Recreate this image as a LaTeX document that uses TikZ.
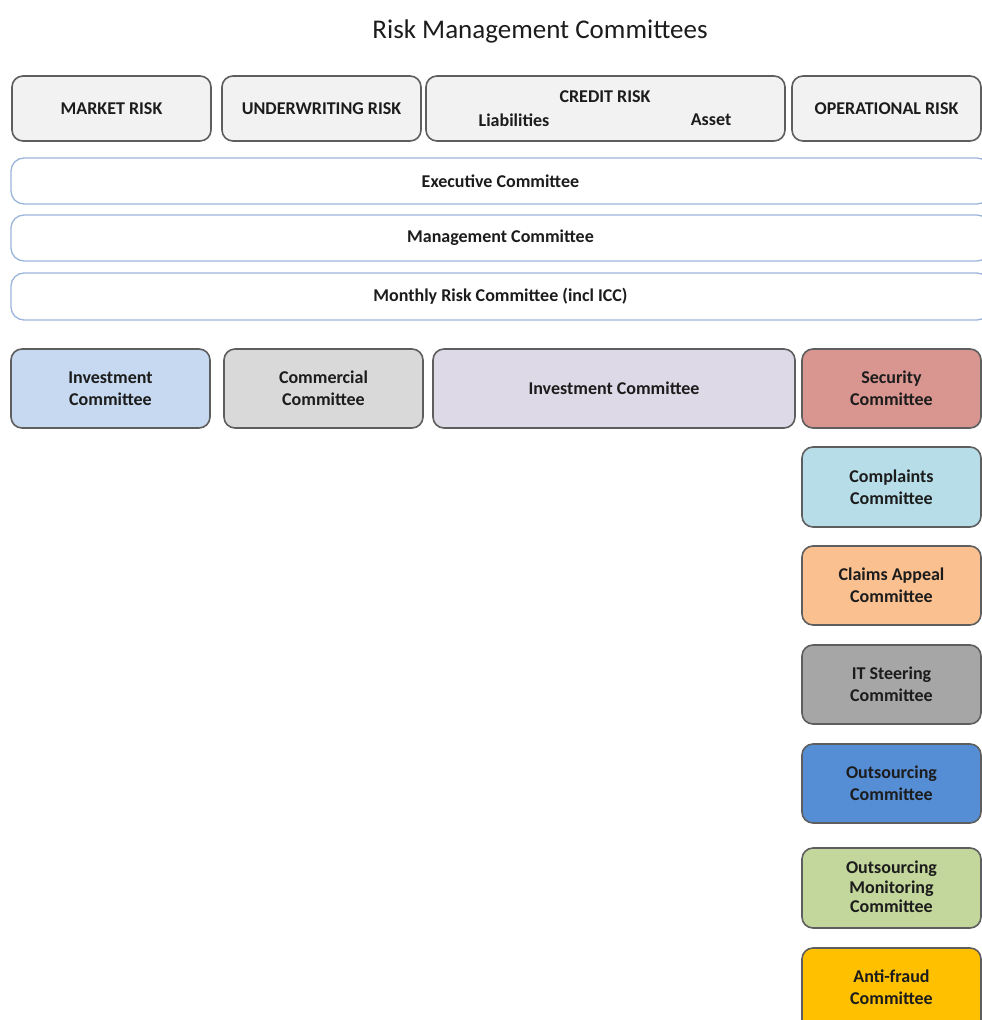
\documentclass[tikz,border=0pt]{standalone}
\usepackage{fontspec}
\setmainfont{Carlito}
\definecolor{topfill}{HTML}{F2F2F2}
\definecolor{boxline}{HTML}{5E5E5E}
\definecolor{bandline}{HTML}{9CB6DB}
\definecolor{invblue}{HTML}{C6D9F0}
\definecolor{commgray}{HTML}{D9D9D9}
\definecolor{invpurple}{HTML}{DED9E6}
\definecolor{secred}{HTML}{D9958F}
\definecolor{complblue}{HTML}{B7DEE8}
\definecolor{claimsor}{HTML}{FAC090}
\definecolor{itgray}{HTML}{A6A6A6}
\definecolor{outblue}{HTML}{558ED5}
\definecolor{monigreen}{HTML}{C3D69B}
\definecolor{antiyel}{HTML}{FFC000}
\definecolor{txt}{HTML}{1C1C1C}
\tikzset{
  box/.style={draw=boxline, line width=1.6pt, rounded corners=11pt},
  band/.style={draw=bandline, line width=1.3pt, rounded corners=13pt, fill=white},
  lbl/.style={text=txt, font=\bfseries\fontsize{18}{22}\selectfont, align=center, inner sep=0pt},
}
\newcommand{\rbox}[7]{% name, style, x1, y1, x2, y2, text
  \path[#2] (#3pt,-#4pt) rectangle (#5pt,-#6pt);
  \node[lbl] (#1) at ({(#3+#5)/2*1pt},{-(#4+#6)/2*1pt}) {#7};}
\begin{document}
\begin{tikzpicture}[x=1pt,y=1pt]
\useasboundingbox (0,0) rectangle (982,-1020);
\clip (0,0) rectangle (982,-1020);
\node[font=\fontsize{27}{32}\selectfont, text=txt, inner sep=0pt] (title) at (540,-31) {Risk Management Committees};
% top row
\rbox{market}{box,fill=topfill}{12}{76}{211}{141}{MARKET RISK}
\rbox{under}{box,fill=topfill}{222}{76}{421}{141}{UNDERWRITING RISK}
\path[box,fill=topfill] (426,-76) rectangle (785,-141);
\node[lbl] (credit) at (605,-97) {CREDIT RISK};
\node[lbl] (liab) at (514,-120) {Liabilities};
\node[lbl] (asset) at (711,-120) {Asset};
\rbox{oper}{box,fill=topfill}{792}{76}{981}{141}{OPERATIONAL RISK}
% bands
\rbox{exec}{band}{11}{158}{990}{204}{Executive Committee}
\rbox{mgmt}{band}{11}{215}{990}{261}{Management Committee}
\rbox{monthly}{band}{11}{273}{990}{320}{Monthly Risk Committee (incl ICC)}
% third row
\rbox{inv1}{box,fill=invblue}{11}{349}{210}{428}{Investment\\Committee}
\rbox{comm}{box,fill=commgray}{224}{349}{423}{428}{Commercial\\Committee}
\rbox{inv2}{box,fill=invpurple}{433}{349}{795}{428}{Investment Committee}
\rbox{sec}{box,fill=secred}{802}{349}{981}{428}{Security\\Committee}
% right column
\rbox{compl}{box,fill=complblue}{802}{447}{981}{527}{Complaints\\Committee}
\rbox{claims}{box,fill=claimsor}{802}{546}{981}{625}{Claims Appeal\\Committee}
\rbox{itst}{box,fill=itgray}{802}{645}{981}{724}{IT Steering\\Committee}
\rbox{outs}{box,fill=outblue}{802}{744}{981}{823}{Outsourcing\\Committee}
\path[box,fill=monigreen] (802,-848) rectangle (981,-928);
\node[lbl, font=\bfseries\fontsize{18}{19.5}\selectfont] (monit) at (891.5,-887) {Outsourcing\\Monitoring\\Committee};
\path[box,fill=antiyel] (802,-948) rectangle (981,-1040);
\node[lbl] (anti) at (891.5,-987) {Anti-fraud\\Committee};
\end{tikzpicture}
\end{document}
